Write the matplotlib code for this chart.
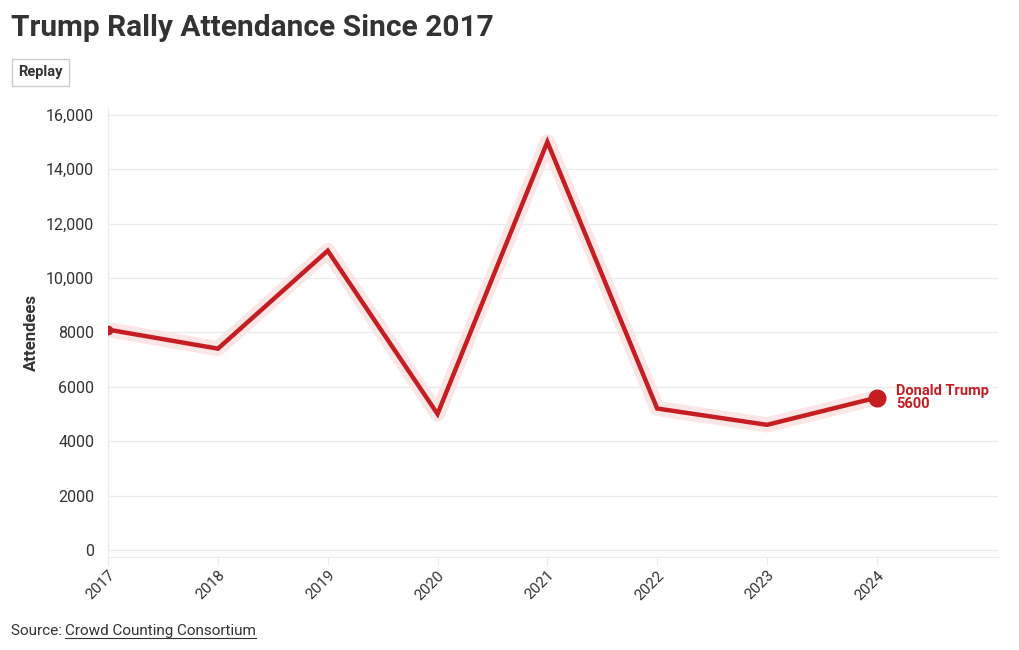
import matplotlib
matplotlib.use("Agg")
import matplotlib.pyplot as plt
from matplotlib.ticker import FixedLocator, FuncFormatter

plt.rcParams['font.family'] = ['Roboto', 'DejaVu Sans']

# data
years = [2017, 2018, 2019, 2020, 2021, 2022, 2023, 2024]
attendees = [8100, 7400, 11000, 5000, 15000, 5200, 4600, 5600]
yticks = [0, 2000, 4000, 6000, 8000, 10000, 12000, 14000, 16000]

red = "#c41e23"
grid_c = "#ebebeb"
text_c = "#333333"

fig = plt.figure(figsize=(10.2, 6.5), dpi=100)
ax = fig.add_axes([0.106, 0.143, 0.872, 0.691])

ax.plot(years, attendees, color="#fbe6e6", lw=11, solid_capstyle="round",
        solid_joinstyle="round", zorder=2)
ax.plot(years, attendees, color=red, lw=3.2, solid_joinstyle="miter", zorder=3)
ax.plot(years[0], attendees[0], "o", color=red, ms=6, zorder=4)
ax.plot(years[-1], attendees[-1], "o", color=red, ms=12, zorder=4)

ax.annotate(f"Donald Trump\n{attendees[-1]}", (years[-1], attendees[-1]),
            xytext=(14, 0), textcoords="offset points", va="center", ha="left",
            color=red, fontsize=10.5, fontweight="bold", linespacing=0.85)

ax.set_xlim(2017, 2025.1)
ax.set_ylim(-260, 16250)
ax.set_xticks(years)
ax.set_xticklabels([str(y) for y in years], rotation=45, ha="right",
                   rotation_mode="anchor", color=text_c, fontsize=11)
ax.yaxis.set_major_locator(FixedLocator(yticks))
ax.yaxis.set_major_formatter(FuncFormatter(
    lambda v, p: f"{int(v):,}" if v >= 10000 else f"{int(v)}"))
ax.tick_params(axis="y", length=0, pad=10, labelsize=11.5, labelcolor=text_c)
ax.tick_params(axis="x", length=6, color=grid_c, pad=2)

ax.grid(axis="y", color=grid_c, lw=1)
for s in ["top", "right"]:
    ax.spines[s].set_visible(False)
ax.spines["left"].set_color(grid_c)
ax.spines["bottom"].set_color(grid_c)

ax.set_ylabel("Attendees", fontsize=12, fontweight="bold", color=text_c, labelpad=5)

fig.text(0.011, 0.957, "Trump Rally Attendance Since 2017", fontsize=21.5,
         fontweight="bold", color=text_c, va="center")
fig.text(0.018, 0.889, "Replay", fontsize=10.5, fontweight="bold", color=text_c,
         va="center", bbox=dict(boxstyle="square,pad=0.45", fc="white", ec="#cccccc", lw=1))
fig.text(0.011, 0.029, "Source: ", fontsize=11, color=text_c, va="center")
fig.text(0.064, 0.029, "Crowd Counting Consortium", fontsize=11, color=text_c,
         va="center")
fig.add_artist(plt.Line2D([0.064, 0.251], [0.018, 0.018], color=text_c, lw=0.8))

fig.savefig("out.png", dpi=100, facecolor="white")
